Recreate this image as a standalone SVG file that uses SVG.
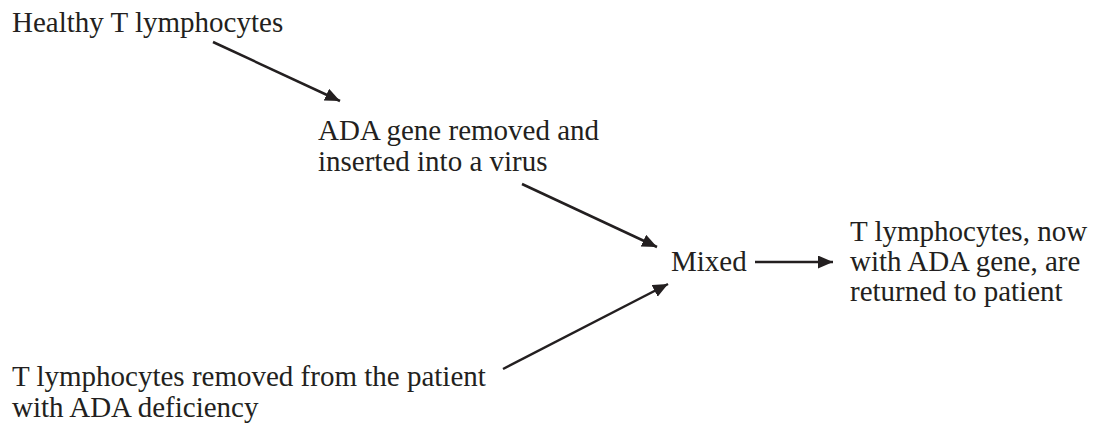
<svg xmlns="http://www.w3.org/2000/svg" width="1097" height="424" viewBox="0 0 1097 424">
  <style>
    .lbl { font-family: "Liberation Serif", "Times New Roman", serif; font-size: 29px; fill: #231f20; }
    .conn { stroke: #231f20; stroke-width: 2.5; fill: none; marker-end: url(#head); }
  </style>
  <defs>
    <marker id="head" markerUnits="userSpaceOnUse" markerWidth="16" markerHeight="14" refX="15" refY="6.5" orient="auto">
      <path d="M0,0 L15,6.5 L0,13 Z" fill="#231f20"/>
    </marker>
  </defs>
  <rect width="1097" height="424" fill="#ffffff"/>

  <g id="connectors">
    <line class="conn" x1="213" y1="42" x2="340" y2="101"/>
    <line class="conn" x1="522" y1="184" x2="657" y2="247"/>
    <line class="conn" x1="503" y1="369" x2="668" y2="284"/>
    <line class="conn" x1="755" y1="262" x2="833" y2="262"/>
  </g>

  <g id="healthy">
    <text class="lbl" x="12" y="32">Healthy T lymphocytes</text>
  </g>
  <g id="ada-gene">
    <text class="lbl" x="318" y="140">ADA gene removed and</text>
    <text class="lbl" x="318" y="171">inserted into a virus</text>
  </g>
  <g id="mixed">
    <text class="lbl" x="671" y="271">Mixed</text>
  </g>
  <g id="returned">
    <text class="lbl" x="850" y="241">T lymphocytes, now</text>
    <text class="lbl" x="850" y="271">with ADA gene, are</text>
    <text class="lbl" x="850" y="301">returned to patient</text>
  </g>
  <g id="patient-cells">
    <text class="lbl" x="12" y="386">T lymphocytes removed from the patient</text>
    <text class="lbl" x="12" y="417">with ADA deficiency</text>
  </g>
</svg>
